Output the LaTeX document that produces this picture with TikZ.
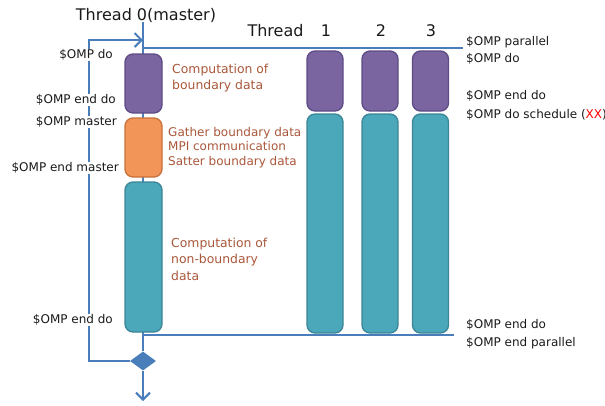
\documentclass[tikz,border=0pt]{standalone}
\usepackage{fontspec}
\setmainfont{DejaVu Sans}
\usetikzlibrary{arrows.meta,shapes.geometric}
\definecolor{flow}{HTML}{4A7EBB}
\definecolor{purpfill}{HTML}{7A65A0}
\definecolor{purpline}{HTML}{5E4B85}
\definecolor{orfill}{HTML}{F29558}
\definecolor{orline}{HTML}{C8703A}
\definecolor{tealfill}{HTML}{4BA7BA}
\definecolor{tealline}{HTML}{3C8595}
\definecolor{note}{HTML}{A9573A}
\definecolor{ink}{HTML}{1A1A1A}
\tikzset{
  task/.style={draw, line width=1.3pt, rounded corners=8pt, inner sep=0pt},
  purptask/.style={task, fill=purpfill, draw=purpline},
  ortask/.style={task, fill=orfill, draw=orline},
  tealtask/.style={task, fill=tealfill, draw=tealline},
  flowline/.style={draw=flow, line width=2.2pt},
  openarrow/.style={-{Straight Barb[length=7pt,width=14pt,line width=2pt]}},
  directive/.style={font=\fontsize{12}{14.5}\selectfont, text=ink, inner sep=1pt},
  leftdir/.style={directive, anchor=east, fill=white},
  rightdir/.style={directive, anchor=west, align=left},
  remark/.style={font=\fontsize{12.4}{16.5}\selectfont, text=note, anchor=west, align=left, inner sep=0pt},
  title/.style={font=\fontsize{16}{19}\selectfont, text=ink, inner sep=0pt}
}
\begin{document}
\begin{tikzpicture}[x=1pt,y=-1pt]
\useasboundingbox (0,0) rectangle (605,405);

% thread 0 time line and fork/join rails
\coordinate (t0top) at (143,22);
\coordinate (forkL) at (143,48);
\coordinate (forkR) at (463,48);
\coordinate (joinL) at (143,335);
\coordinate (joinR) at (454,335);
\coordinate (loopTop) at (89,40);
\coordinate (loopEnd) at (143,40);
\coordinate (loopBot) at (89,361);
\coordinate (exit) at (143,401);
\node[diamond, fill=flow, minimum width=26pt, minimum height=19pt, inner sep=0pt] (merge) at (143,361) {};

\draw[flowline] (t0top) -- (merge.north);
\draw[flowline] (forkL) -- (forkR);
\draw[flowline] (joinL) -- (joinR);
\draw[flowline, openarrow] (merge.west) -- (loopBot) -- (loopTop) -- (loopEnd);
\draw[flowline, openarrow] (merge.south) -- (exit);

% thread 0 tasks
\node[purptask, minimum width=37pt, minimum height=59pt] (p0) at (143.5,83.5) {};
\node[ortask, minimum width=37pt, minimum height=59pt] (o0) at (143.5,147.5) {};
\node[tealtask, minimum width=37pt, minimum height=150pt] (c0) at (143.5,257) {};

% worker threads
\foreach \i/\x in {1/325,2/380,3/430.5}{
  \node[purptask, minimum width=36pt, minimum height=60pt] (p\i) at (\x,81) {};
  \node[tealtask, minimum width=36pt, minimum height=219pt] (c\i) at (\x,223.5) {};
}

% titles
\node[title] (h0) at (146,15) {Thread 0(master)};
\node[title] (hT) at (275.5,31) {Thread};
\node[title] (h1) at (326,31) {1};
\node[title] (h2) at (381,31) {2};
\node[title] (h3) at (431,31) {3};

% directives on the master side
\node[leftdir] (l1) at (114,55) {\$OMP do};
\node[leftdir] (l2) at (117,100) {\$OMP end do};
\node[leftdir] (l3) at (118,122) {\$OMP master};
\node[leftdir] (l4) at (120,168) {\$OMP end master};
\node[leftdir] (l5) at (114,320) {\$OMP end do};

% directives on the right
\node[rightdir] (r1) at (465,42) {\$OMP parallel};
\node[rightdir] (r2) at (465,59) {\$OMP do};
\node[rightdir] (r3) at (465,96) {\$OMP end do};
\node[rightdir] (r4) at (465,115) {\$OMP do schedule ({\color{red}XX})};
\node[rightdir] (r5) at (465,325) {\$OMP end do};
\node[rightdir] (r6) at (465,343) {\$OMP end parallel};

% task notes
\node[remark] (n1) at (172,78) {Computation of\\boundary data};
\node[remark, font=\fontsize{12}{14.5}\selectfont] (n2) at (168,147.5) {Gather boundary data\\MPI communication\\Satter boundary data};
\node[remark] (n3) at (171,259) {Computation of\\non-boundary\\data};
\end{tikzpicture}
\end{document}
